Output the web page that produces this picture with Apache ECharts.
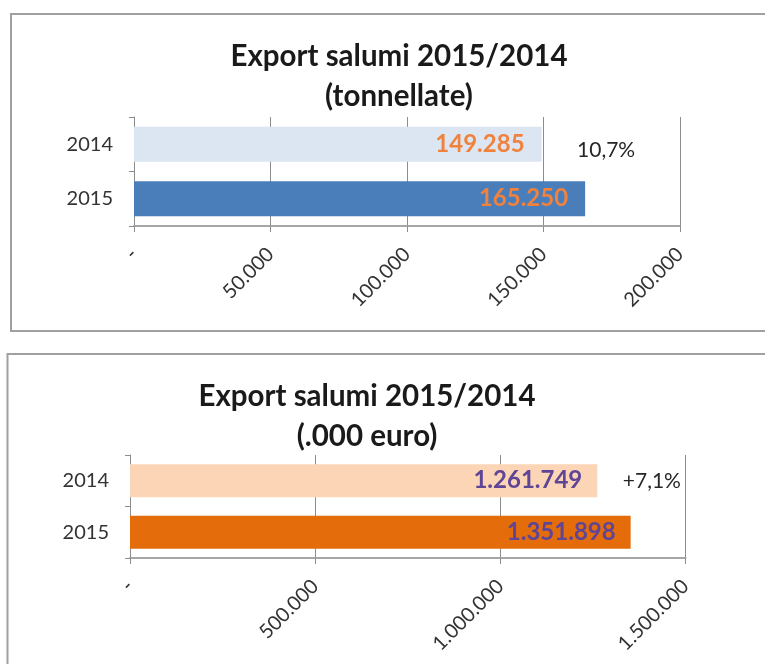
<!DOCTYPE html>
<html>
<head>
<meta charset="utf-8">
<title>Export salumi 2015/2014</title>
<script src="https://cdn.jsdelivr.net/npm/echarts@6/dist/echarts.min.js"></script>
<style>
  html, body { margin: 0; padding: 0; background: #fff; }
  #chart { width: 765px; height: 664px; }
</style>
</head>
<body>
<div id="chart"></div>
<script>
// dati
const years = ["2014", "2015"];
const tonnes = [149285, 165250];
const euro = [1261749, 1351898];
const changeLabels = ["10,7%", "+7,1%"];
const tonnesTicks = { min: 0, max: 200000, step: 50000 };
const euroTicks = { min: 0, max: 1500000, step: 500000 };

const FONT = "Lato";
const fmt = (v) => (v === 0 ? "-" : String(v).replace(/\B(?=(\d{3})+(?!\d))/g, "."));

const chart = echarts.init(document.getElementById("chart"));

const xAxisFor = (gridIndex, ticks) => ({
  gridIndex,
  type: "value",
  min: ticks.min,
  max: ticks.max,
  interval: ticks.step,
  axisLine: { show: true, lineStyle: { color: "#a6a6a6", width: 2 } },
  axisTick: { show: true, length: 6, lineStyle: { color: "#8c8c8c" } },
  splitLine: { show: true, lineStyle: { color: "#8c8c8c", width: 1 } },
  axisLabel: {
    rotate: 45,
    margin: 25,
    fontFamily: FONT,
    fontSize: 20,
    color: "#333",
    formatter: fmt,
  },
});

const yAxisFor = (gridIndex) => ({
  gridIndex,
  type: "category",
  data: years,
  inverse: true,
  axisLine: { show: true, lineStyle: { color: "#8c8c8c" } },
  axisTick: { show: true, length: 5, lineStyle: { color: "#8c8c8c" } },
  axisLabel: { margin: 21, fontFamily: FONT, fontSize: 20, color: "#333" },
  splitLine: { show: false },
});

const barSeries = (idx, values, colors, labelColor, barWidth, dist, note, noteOffset) => ({
  type: "bar",
  xAxisIndex: idx,
  yAxisIndex: idx,
  barWidth,
  data: values.map((v, i) => ({ value: v, itemStyle: { color: colors[i] } })),
  label: {
    show: true,
    position: "insideRight",
    distance: dist,
    fontFamily: FONT,
    fontWeight: "bold",
    fontSize: 24,
    color: labelColor,
    formatter: (p) => fmt(p.value),
  },
  markPoint: {
    symbol: "circle",
    symbolSize: 1,
    itemStyle: { color: "rgba(0,0,0,0)" },
    label: {
      show: true,
      position: "right",
      distance: 0,
      offset: noteOffset,
      fontFamily: FONT,
      fontSize: 21,
      color: "#262626",
      formatter: note,
    },
    data: [{ coord: [values[0], years[0]] }],
  },
});

const titleFor = (text, cx, top) => ({
  text,
  left: cx,
  top,
  textAlign: "center",
  textStyle: {
    fontFamily: FONT,
    fontWeight: "bold",
    fontSize: 29.5,
    lineHeight: 40,
    color: "#1a1a1a",
  },
});

const option = {
  backgroundColor: "#fff",
  animation: false,
  title: [
    titleFor("Export salumi 2015/2014\n(tonnellate)", 394, 31),
    titleFor("Export salumi 2015/2014\n(.000 euro)", 362, 371),
  ],
  graphic: [
    { type: "rect", shape: { x: 11, y: 14, width: 770, height: 317 }, style: { fill: "none", stroke: "#a0a0a0", lineWidth: 2 } },
    { type: "rect", shape: { x: 7.5, y: 354, width: 770, height: 330 }, style: { fill: "none", stroke: "#a0a0a0", lineWidth: 2 } },
  ],
  grid: [
    { left: 134, width: 546, top: 117, height: 109, outerBoundsMode: "none" },
    { left: 130, width: 555.5, top: 455, height: 103, outerBoundsMode: "none" },
  ],
  xAxis: [xAxisFor(0, tonnesTicks), xAxisFor(1, euroTicks)],
  yAxis: [yAxisFor(0), yAxisFor(1)],
  series: [
    barSeries(0, tonnes, ["#dce6f2", "#4a7ebb"], "#f0823d", 35, 17, changeLabels[0], [35, 6]),
    barSeries(1, euro, ["#fbd5b5", "#e46c0a"], "#5e4596", 33, 15, changeLabels[1], [25, 0]),
  ],
};

chart.setOption(option);
window.addEventListener("resize", () => chart.resize());
</script>
</body>
</html>
